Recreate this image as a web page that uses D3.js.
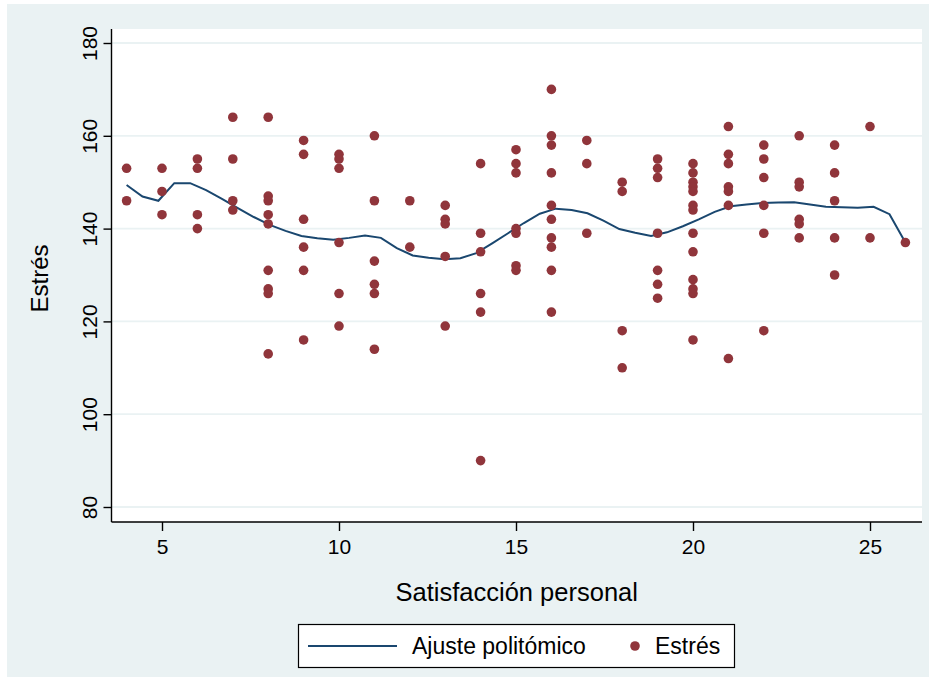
<!DOCTYPE html>
<html>
<head>
<meta charset="utf-8">
<script src="https://cdn.jsdelivr.net/npm/d3@7"></script>
<style>
  html, body { margin: 0; padding: 0; background: #ffffff; }
  svg { display: block; }
  text { font-family: "Liberation Sans", Arial, sans-serif; fill: #000; }
</style>
</head>
<body>
<svg id="chart" width="934" height="681"></svg>
<script>
// Satisfacción personal (x) and the Estrés scores observed at each value
const satisfaccion = [4, 5, 6, 7, 8, 9, 10, 11, 12, 13, 14, 15, 16, 17, 18, 19, 20, 21, 22, 23, 24, 25, 26];
const estres = [
  [153, 146],
  [153, 148, 143],
  [155, 153, 143, 140],
  [164, 155, 146, 144],
  [164, 147, 146, 143, 141, 131, 127, 126, 113],
  [159, 156, 142, 136, 131, 116],
  [156, 155, 153, 137, 126, 119],
  [160, 146, 133, 128, 126, 114],
  [146, 136],
  [145, 142, 141, 134, 119],
  [154, 139, 135, 126, 122, 90],
  [157, 154, 152, 140, 139, 132, 131],
  [170, 160, 158, 152, 145, 142, 138, 136, 131, 122],
  [159, 154, 139],
  [150, 148, 118, 110],
  [155, 153, 151, 139, 131, 128, 125],
  [154, 152, 150, 149, 148, 145, 144, 139, 135, 129, 127, 126, 116],
  [162, 156, 154, 149, 148, 145, 112],
  [158, 155, 151, 145, 139, 118],
  [160, 150, 149, 142, 141, 138],
  [158, 152, 146, 138, 130],
  [162, 138],
  [137]
];

// Smoothed fit evaluated on a grid of 50 points
const ajusteX = [4.000, 4.449, 4.898, 5.347, 5.796, 6.245, 6.694, 7.143, 7.592, 8.041,
  8.490, 8.939, 9.388, 9.837, 10.286, 10.735, 11.184, 11.633, 12.082, 12.531,
  12.980, 13.429, 13.878, 14.327, 14.776, 15.224, 15.673, 16.122, 16.571, 17.020,
  17.469, 17.918, 18.367, 18.816, 19.265, 19.714, 20.163, 20.612, 21.061, 21.510,
  21.959, 22.408, 22.857, 23.306, 23.755, 24.204, 24.653, 25.102, 25.551, 26.000];
const ajusteY = [149.4, 146.9, 146.0, 149.8, 149.8, 148.3, 146.4, 144.4, 142.5, 140.8,
  139.5, 138.4, 137.9, 137.6, 138.0, 138.5, 138.0, 135.8, 134.2, 133.7,
  133.4, 133.6, 134.7, 136.8, 139.0, 141.2, 143.2, 144.3, 144.0, 143.3,
  141.7, 139.9, 139.1, 138.4, 139.2, 140.5, 142.0, 143.6, 144.8, 145.2,
  145.5, 145.6, 145.7, 145.2, 144.7, 144.6, 144.5, 144.7, 143.1, 137.0];

const xTicks = [5, 10, 15, 20, 25];
const yTicks = [80, 100, 120, 140, 160, 180];

const colors = { bg: "#EAF2F3", grid: "#EAF2F3", marker: "#90353B", line: "#1A476F" };

const svg = d3.select("#chart");
const plot = { left: 111.5, right: 922, top: 29, bottom: 522 };

// Graph region background
svg.append("rect").attr("x", 7).attr("y", 4).attr("width", 922).attr("height", 673)
  .attr("fill", colors.bg);
// Plot region
svg.append("rect").attr("x", plot.left).attr("y", plot.top)
  .attr("width", plot.right - plot.left).attr("height", plot.bottom - plot.top)
  .attr("fill", "#ffffff");

const x = d3.scaleLinear().domain([5, 25]).range([162, 870]);
const y = d3.scaleLinear().domain([80, 180]).range([507, 43]);

// Horizontal grid
svg.append("g").selectAll("line").data(yTicks).join("line")
  .attr("x1", plot.left).attr("x2", plot.right)
  .attr("y1", d => y(d)).attr("y2", d => y(d))
  .attr("stroke", colors.grid).attr("stroke-width", 1.8);

// Y axis
const yAxis = svg.append("g").attr("transform", `translate(${plot.left},0)`)
  .call(d3.axisLeft(y).tickValues(yTicks).tickSize(8).tickPadding(0).tickFormat(d3.format("d")));
yAxis.select(".domain").attr("d", `M0,${plot.top}V${plot.bottom}`).attr("stroke", "#000").attr("stroke-width", 1.4);
yAxis.selectAll(".tick line").attr("stroke", "#000").attr("stroke-width", 1.4);
yAxis.selectAll(".tick text")
  .attr("x", 0).attr("y", 0).attr("dy", 0)
  .attr("transform", "translate(-15,0) rotate(-90)")
  .attr("text-anchor", "middle")
  .style("font-size", "21px").style("font-family", "Liberation Sans, Arial, sans-serif").attr("fill", "#000");

// X axis
const xAxis = svg.append("g").attr("transform", `translate(0,${plot.bottom})`)
  .call(d3.axisBottom(x).tickValues(xTicks).tickSize(9).tickPadding(8).tickFormat(d3.format("d")));
xAxis.select(".domain").attr("d", `M${plot.left},0H${plot.right}`).attr("stroke", "#000").attr("stroke-width", 1.4);
xAxis.selectAll(".tick line").attr("stroke", "#000").attr("stroke-width", 1.4);
xAxis.selectAll(".tick text")
  .style("font-size", "21px").style("font-family", "Liberation Sans, Arial, sans-serif").attr("fill", "#000");

// Axis titles
svg.append("text").attr("transform", `translate(48,${(plot.top + plot.bottom) / 2 + 3}) rotate(-90)`)
  .attr("text-anchor", "middle").style("font-size", "24px").text("Estrés");
svg.append("text").attr("x", (plot.left + plot.right) / 2).attr("y", 601)
  .attr("text-anchor", "middle").style("font-size", "25.5px").text("Satisfacción personal");

// Fitted curve
const line = d3.line().x(d => x(d[0])).y(d => y(d[1]));
svg.append("path").datum(ajusteX.map((v, i) => [v, ajusteY[i]]))
  .attr("d", line).attr("fill", "none").attr("stroke", colors.line).attr("stroke-width", 2);

// Scatter points
const puntos = satisfaccion.flatMap((s, i) => estres[i].map(e => [s, e]));
svg.append("g").selectAll("circle").data(puntos).join("circle")
  .attr("cx", d => x(d[0])).attr("cy", d => y(d[1])).attr("r", 4.8)
  .attr("fill", colors.marker);

// Legend
const lg = svg.append("g");
lg.append("rect").attr("x", 298.5).attr("y", 624.5).attr("width", 436).attr("height", 43)
  .attr("fill", "#fff").attr("stroke", "#000").attr("stroke-width", 1.2);
lg.append("line").attr("x1", 308).attr("x2", 397).attr("y1", 646).attr("y2", 646)
  .attr("stroke", colors.line).attr("stroke-width", 2);
lg.append("text").attr("x", 412).attr("y", 654).style("font-size", "23px").text("Ajuste politómico");
lg.append("circle").attr("cx", 635).attr("cy", 646).attr("r", 4.8).attr("fill", colors.marker);
lg.append("text").attr("x", 655).attr("y", 654).style("font-size", "23px").text("Estrés");
</script>
</body>
</html>
